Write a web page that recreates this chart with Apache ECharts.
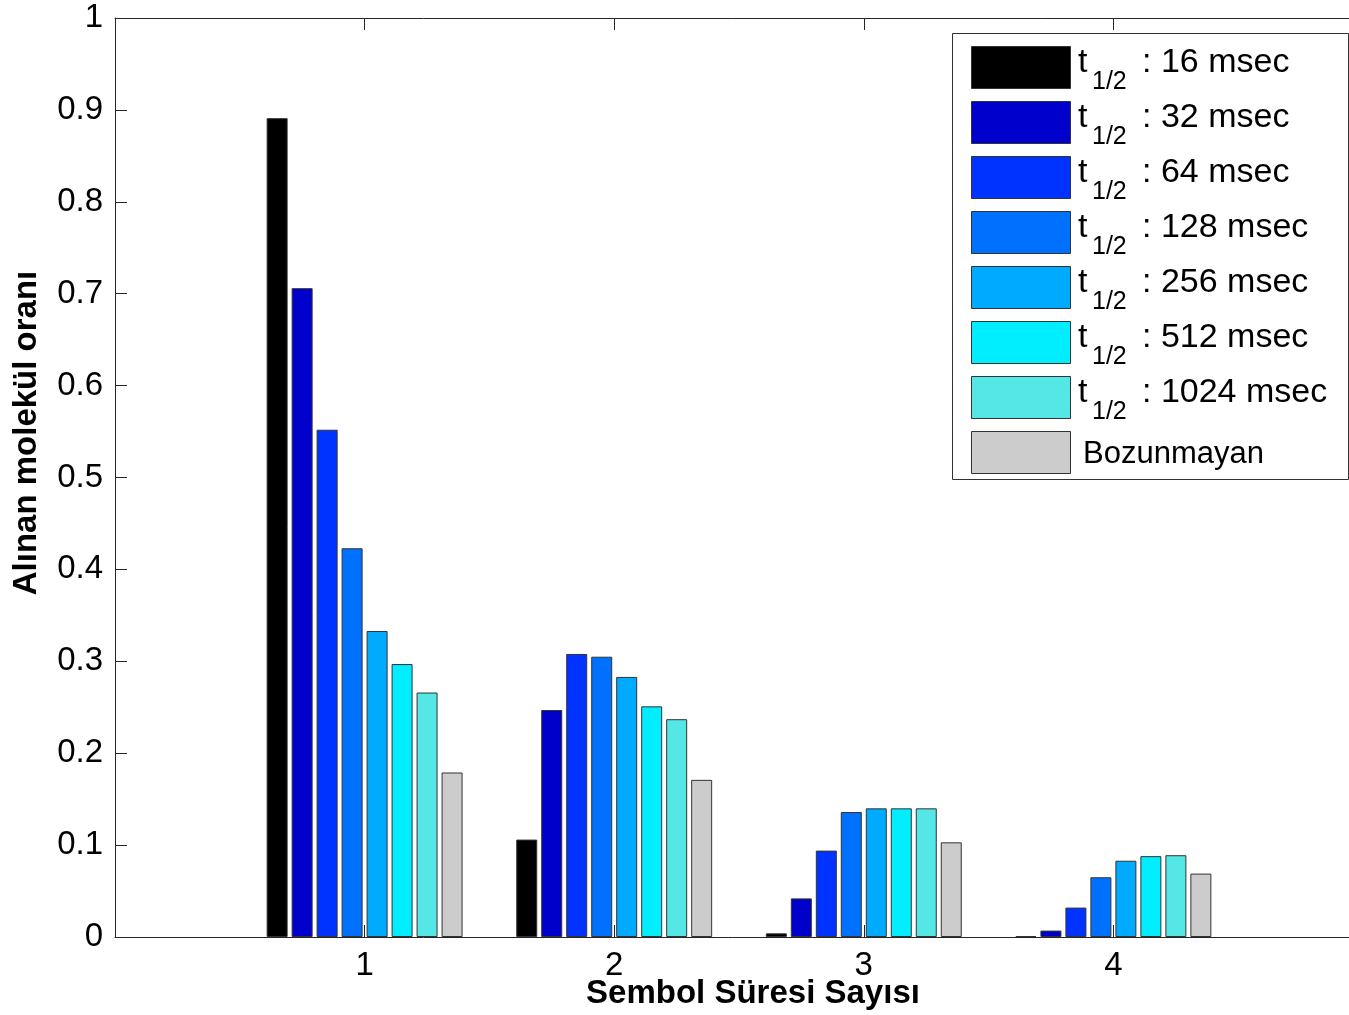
<!DOCTYPE html>
<html>
<head>
<meta charset="utf-8">
<script src="https://cdn.jsdelivr.net/npm/echarts@6/dist/echarts.min.js"></script>
<style>
  html, body { margin: 0; padding: 0; background: #fff; }
  #chart { width: 1349px; height: 1015px; }
</style>
</head>
<body>
<div id="chart"></div>
<script>
// ---- data ----
const xCategories = ['0', '1', '2', '3', '4', '5'];
const shownCategories = ['1', '2', '3', '4'];
const seriesNames = [
  't1/2 : 16 msec', 't1/2 : 32 msec', 't1/2 : 64 msec', 't1/2 : 128 msec',
  't1/2 : 256 msec', 't1/2 : 512 msec', 't1/2 : 1024 msec', 'Bozunmayan'
];
const halfLifeLabels = ['16 msec', '32 msec', '64 msec', '128 msec', '256 msec', '512 msec', '1024 msec'];
const s16 = [0.891, 0.106, 0.004, 0.001];
const s32 = [0.706, 0.247, 0.042, 0.007];
const s64 = [0.552, 0.308, 0.094, 0.032];
const s128 = [0.423, 0.305, 0.136, 0.065];
const s256 = [0.333, 0.283, 0.140, 0.083];
const s512 = [0.297, 0.251, 0.140, 0.088];
const s1024 = [0.266, 0.237, 0.140, 0.089];
const sNone = [0.179, 0.171, 0.103, 0.069];
const yTicks = ['0', '0.1', '0.2', '0.3', '0.4', '0.5', '0.6', '0.7', '0.8', '0.9', '1'];
const colors = ['#000000', '#0000CC', '#0033FF', '#0070FF', '#00AAFF', '#00EEFF', '#55E6E6', '#CCCCCC'];

const allSeries = [s16, s32, s64, s128, s256, s512, s1024, sNone];

function pad(arr) {
  const out = xCategories.map(() => '-');
  shownCategories.forEach((c, i) => { out[xCategories.indexOf(c)] = arr[i]; });
  return out;
}

const chart = echarts.init(document.getElementById('chart'), null, { renderer: 'canvas' });
const FONT = '"Liberation Sans", Arial, sans-serif';

// ---- legend built from graphic elements (box, swatches, texts) ----
const LEG = { left: 952, top: 33, width: 396, height: 446, swX: 971, swW: 99, swH: 42, firstTop: 46, pitch: 55 };
const legendEls = [{
  type: 'rect',
  shape: { x: LEG.left + 0.5, y: LEG.top + 0.5, width: LEG.width, height: LEG.height },
  style: { fill: '#fff', stroke: '#333', lineWidth: 1 },
  z: 10
}];
seriesNames.forEach((name, i) => {
  const top = LEG.firstTop + LEG.pitch * i;
  legendEls.push({
    type: 'rect',
    shape: { x: LEG.swX + 0.5, y: top + 0.5, width: LEG.swW, height: LEG.swH },
    style: { fill: colors[i], stroke: '#333', lineWidth: 1 },
    z: 11
  });
  if (i < halfLifeLabels.length) {
    legendEls.push({
      type: 'text', x: 1078, y: top + 17, z: 11,
      style: { text: 't', font: '34px ' + FONT, fill: '#000', textAlign: 'left', textVerticalAlign: 'middle' }
    });
    legendEls.push({
      type: 'text', x: 1092, y: top + 36.5, z: 11,
      style: { text: '1/2', font: '25px ' + FONT, fill: '#000', textAlign: 'left', textVerticalAlign: 'middle' }
    });
    legendEls.push({
      type: 'text', x: 1142, y: top + 17, z: 11,
      style: { text: ': ' + halfLifeLabels[i], font: '34px ' + FONT, fill: '#000', textAlign: 'left', textVerticalAlign: 'middle' }
    });
  } else {
    legendEls.push({
      type: 'text', x: 1083, y: top + 23, z: 11,
      style: { text: name, font: '31px ' + FONT, fill: '#000', textAlign: 'left', textVerticalAlign: 'middle' }
    });
  }
});

const option = {
  backgroundColor: '#ffffff',
  animation: false,
  textStyle: { fontFamily: FONT },
  grid: { left: 115, top: 18, width: 1248, bottom: 78, containLabel: false, outerBoundsMode: 'none' },
  xAxis: [{
    type: 'category',
    data: xCategories,
    boundaryGap: false,
    position: 'bottom',
    axisLine: { show: true, lineStyle: { color: '#262626', width: 1 } },
    axisTick: { show: true, inside: true, length: 12, lineStyle: { color: '#262626' } },
    axisLabel: {
      interval: (idx, val) => shownCategories.includes(val),
      color: '#000', fontSize: 33, fontFamily: FONT, margin: 12
    },
    splitLine: { show: false }
  }, {
    type: 'category',
    data: xCategories,
    boundaryGap: false,
    position: 'top',
    axisLine: { show: true, lineStyle: { color: '#262626', width: 1 } },
    axisTick: { show: true, inside: true, length: 12, lineStyle: { color: '#262626' } },
    axisLabel: { show: false },
    splitLine: { show: false }
  }],
  yAxis: {
    type: 'value',
    min: 0, max: 1, interval: 0.1,
    axisLine: { show: true, lineStyle: { color: '#262626', width: 1 } },
    axisTick: { show: true, inside: true, length: 12, lineStyle: { color: '#262626' } },
    axisLabel: {
      color: '#000', fontSize: 33, fontFamily: FONT, margin: 12,
      formatter: (v) => yTicks[Math.round(v * 10)]
    },
    splitLine: { show: false }
  },
  legend: { show: false },
  graphic: [{
    type: 'text',
    x: 753, y: 994,
    style: {
      text: 'Sembol Süresi Sayısı',
      font: 'bold 33px ' + FONT,
      fill: '#000',
      textAlign: 'center',
      textVerticalAlign: 'middle'
    }
  }, {
    type: 'text',
    x: 27, y: 433,
    rotation: Math.PI / 2,
    style: {
      text: 'Alınan molekül oranı',
      font: 'bold 33px ' + FONT,
      fill: '#000',
      textAlign: 'center',
      textVerticalAlign: 'middle'
    }
  }, {
    type: 'group',
    children: legendEls
  }],
  series: allSeries.map((arr, i) => ({
    name: seriesNames[i],
    type: 'bar',
    xAxisIndex: 0,
    data: pad(arr),
    barWidth: 21,
    barGap: '19%',
    itemStyle: { color: colors[i], borderColor: '#333333', borderWidth: 1 },
    emphasis: { disabled: true }
  }))
};

chart.setOption(option);
</script>
</body>
</html>
